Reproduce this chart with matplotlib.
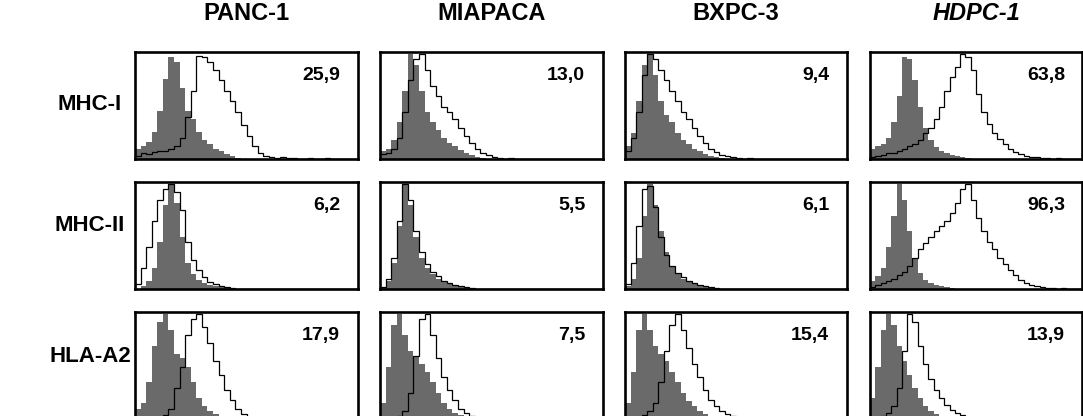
import numpy as np
import matplotlib
matplotlib.use("Agg")
import matplotlib.pyplot as plt

plt.rcParams['font.family'] = ['Liberation Sans', 'DejaVu Sans']

cell_lines = ['PANC-1', 'MIAPACA', 'BXPC-3', 'HDPC-1']
markers = ['MHC-I', 'MHC-II', 'HLA-A2']
pct_positive = [['25,9', '13,0', '9,4', '63,8'],
                ['6,2', '5,5', '6,1', '96,3'],
                ['17,9', '7,5', '15,4', '13,9']]

n_bins = 40

# isotype control histograms (grey fill), counts as % of peak, per channel bin
iso_mhc1 = [
    [10, 12, 16, 26, 46, 76, 97, 92, 68, 46, 38, 26, 18, 14, 10, 8, 5, 3, 1],
    [8, 10, 18, 35, 65, 100, 90, 65, 45, 35, 28, 20, 15, 12, 9, 6, 4, 2, 1],
    [12, 25, 55, 90, 100, 80, 55, 42, 35, 25, 18, 14, 10, 8, 5, 3, 2, 1],
    [10, 12, 14, 20, 35, 60, 97, 95, 75, 50, 30, 18, 11, 8, 6, 4, 3, 2, 1],
]
iso_mhc2 = [
    [0, 3, 8, 20, 45, 80, 100, 82, 50, 25, 14, 9, 6, 4, 3, 2, 1],
    [2, 8, 25, 60, 100, 80, 50, 30, 20, 14, 10, 7, 5, 3, 2, 1],
    [3, 10, 30, 70, 100, 80, 55, 35, 22, 15, 10, 7, 5, 3, 2, 1],
    [8, 12, 20, 40, 70, 100, 85, 55, 30, 15, 9, 6, 4, 3, 2, 1],
]
iso_hla = [
    [10, 15, 35, 70, 92, 100, 85, 62, 58, 50, 35, 20, 12, 8, 5, 3, 2, 1],
    [15, 50, 90, 100, 80, 65, 60, 52, 45, 35, 25, 15, 10, 6, 4, 3, 2, 1],
    [15, 45, 85, 100, 85, 70, 62, 55, 45, 35, 25, 17, 12, 8, 5, 3, 2, 1],
    [20, 50, 85, 100, 90, 70, 55, 42, 30, 20, 12, 8, 5, 3, 2, 1],
]

# stained sample histograms (black outline)
stain_mhc1 = [
    [3, 6, 5, 7, 8, 8, 10, 12, 20, 40, 65, 98, 97, 92, 85, 75, 65, 55, 45, 32,
     22, 12, 6, 3, 2, 1, 2, 1, 1, 0, 0, 1, 0, 0, 1],
    [5, 6, 10, 20, 45, 75, 95, 100, 85, 70, 60, 50, 45, 38, 30, 22, 15, 10, 6,
     4, 2, 1, 0, 1],
    [8, 20, 45, 80, 100, 95, 85, 75, 65, 55, 45, 38, 30, 22, 15, 10, 7, 4, 3,
     2, 1, 0, 1],
    [2, 3, 4, 6, 6, 8, 10, 12, 14, 18, 25, 30, 38, 50, 65, 78, 88, 100, 97, 85,
     62, 45, 33, 25, 19, 14, 10, 7, 5, 3, 2, 2, 1, 1, 0, 1],
]
stain_mhc2 = [
    [5, 20, 40, 65, 85, 95, 100, 92, 75, 45, 28, 18, 11, 7, 5, 3, 2, 1],
    [2, 10, 30, 65, 100, 85, 55, 35, 24, 16, 12, 8, 6, 4, 3, 2, 1],
    [5, 25, 60, 95, 98, 78, 50, 32, 22, 15, 11, 8, 6, 4, 3, 2, 1],
    [2, 4, 6, 8, 10, 13, 16, 22, 30, 38, 44, 50, 55, 60, 65, 72, 82, 95, 100,
     85, 68, 55, 45, 38, 30, 24, 18, 13, 9, 6, 4, 3, 2, 1, 1, 0, 1],
]
stain_hla = [
    [0, 0, 0, 1, 2, 4, 10, 30, 50, 80, 95, 100, 88, 72, 55, 42, 28, 18, 10, 5,
     2, 1],
    [0, 0, 1, 3, 8, 25, 60, 95, 100, 80, 58, 40, 28, 18, 10, 6, 3, 2, 1],
    [0, 1, 2, 4, 8, 15, 35, 65, 90, 100, 85, 68, 52, 40, 28, 18, 12, 8, 5, 3,
     2, 1, 1],
    [0, 1, 3, 6, 12, 30, 65, 100, 92, 70, 52, 38, 28, 20, 13, 9, 6, 4, 2, 1],
]

isotype = [iso_mhc1, iso_mhc2, iso_hla]
stained = [stain_mhc1, stain_mhc2, stain_hla]

W, H = 1083, 416
col_px = [(135, 358), (380, 603), (625, 847), (870, 1082)]
row_px = [(52, 159), (182, 289), (312, 419)]
row_label_y = [105, 226, 357]

fig = plt.figure(figsize=(W / 100, H / 100), dpi=100)

edges = np.arange(n_bins + 1)


def padded(vals):
    out = np.zeros(n_bins)
    out[:len(vals)] = vals
    return out


for r, marker in enumerate(markers):
    y0, y1 = row_px[r]
    for c, line in enumerate(cell_lines):
        x0, x1 = col_px[c]
        ax = fig.add_axes([x0 / W, 1 - y1 / H, (x1 - x0) / W, (y1 - y0) / H])
        ax.stairs(padded(isotype[r][c]), edges, fill=True,
                  color='#6a6a6a', lw=0)
        ax.stairs(padded(stained[r][c]), edges, color='black', lw=0.9)
        ax.set_xlim(0, n_bins)
        ax.set_ylim(0, 102)
        ax.set_xticks([])
        ax.set_yticks([])
        for s in ax.spines.values():
            s.set_linewidth(1.9)
        ax.text(0.92, 0.785, pct_positive[r][c], transform=ax.transAxes,
                ha='right', va='center', fontsize=14, fontweight='bold')
    fig.text(90 / W, 1 - row_label_y[r] / H, marker, ha='center',
             va='center', fontsize=16, fontweight='bold')

for c, line in enumerate(cell_lines):
    x0, x1 = col_px[c]
    style = 'italic' if line == 'HDPC-1' else 'normal'
    fig.text((x0 + x1) / 2 / W, 1 - 13 / H, line, ha='center', va='center',
             fontsize=17, fontweight='bold', fontstyle=style)

fig.savefig('out.png', dpi=100)
